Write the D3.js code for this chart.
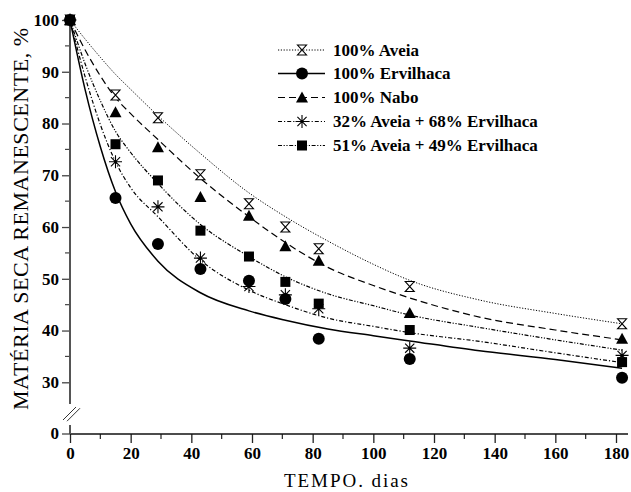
<!DOCTYPE html>
<html>
<head>
<meta charset="utf-8">
<script src="https://cdn.jsdelivr.net/npm/d3@7"></script>
<style>
  body { margin: 0; background: #fff; }
  svg { display: block; }
  text { font-family: "Liberation Serif", "Times New Roman", serif; fill: #000; }
  .bold { font-weight: bold; }
</style>
</head>
<body>
<svg id="chart" width="631" height="492"></svg>
<script>
// observed days and measured values (% remaining)
var days = [0, 15, 29, 43, 59, 71, 82, 112, 182];
var aveia = [100, 85.5, 81.1, 70.1, 64.5, 60.0, 55.8, 48.5, 41.3];
var ervilhaca = [100, 65.6, 56.7, 51.9, 49.6, 46.1, 38.4, 34.5, 30.9];
var nabo = [100, 82.2, 75.4, 65.8, 62.2, 56.3, 53.5, 43.4, 38.4];
var mix32 = [100, 72.6, 63.9, 54.0, 48.5, 46.9, 44.2, 36.6, 35.2];
var mix51 = [100, 76.0, 69.0, 59.3, 54.3, 49.4, 45.2, 40.1, 33.9];

// fitted curves
var fitDays = [0, 5, 10, 15, 20, 29, 43, 59, 71, 85, 100, 112, 135, 160, 182];
var aveiaFit = [100, 96.3, 92.8, 89.5, 86.6, 81.5, 74.2, 66.6, 62.0, 57.3, 52.8, 49.7, 45.9, 43.3, 41.3];
var ervilhacaFit = [100, 86.5, 75.5, 66.8, 60.6, 53.4, 47.3, 43.8, 42.0, 40.3, 39.0, 38.0, 36.1, 34.4, 32.7];
var naboFit = [100, 94.2, 89.2, 85.0, 81.9, 76.9, 69.4, 62.0, 57.0, 52.2, 48.7, 46.3, 42.6, 40.1, 38.2];
var mix32Fit = [100, 89.0, 79.8, 72.6, 67.6, 62.0, 53.6, 47.8, 45.0, 42.4, 40.8, 39.6, 37.9, 35.7, 33.8];
var mix51Fit = [100, 91.5, 84.4, 78.5, 74.4, 68.4, 60.5, 54.3, 50.4, 47.1, 44.8, 43.0, 40.6, 38.2, 36.2];

var xTicks = [0, 20, 40, 60, 80, 100, 120, 140, 160, 180];
var yTicks = [30, 40, 50, 60, 70, 80, 90, 100];

var series = [
    {name: "100% Aveia", pts: aveia, fit: aveiaFit, mark: "hourglass", dash: "1.2,1.6", lw: 1},
    {name: "100% Ervilhaca", pts: ervilhaca, fit: ervilhacaFit, mark: "circle", dash: null, lw: 1.5},
    {name: "100% Nabo", pts: nabo, fit: naboFit, mark: "triangle", dash: "7,4", lw: 1.2},
    {name: "32% Aveia + 68% Ervilhaca", pts: mix32, fit: mix32Fit, mark: "star", dash: "4,2,1.2,2", lw: 1.2},
    {name: "51% Aveia + 49% Ervilhaca", pts: mix51, fit: mix51Fit, mark: "square", dash: "4,1.6,1.2,1.6,1.2,1.6", lw: 1.2}
];

var svg = d3.select("#chart");

var x = d3.scaleLinear().domain([0, 180]).range([70, 616]);
var y = d3.scaleLinear().domain([30, 100]).range([382.3, 20]);
var yZero = 434; // broken axis, the 0 sits below the break

// ---- x axis
var xAxis = d3.axisBottom(x).tickValues(xTicks).tickSize(9).tickPadding(4);
var gx = svg.append("g").attr("transform", "translate(0," + yZero + ")").call(xAxis);
gx.select(".domain").remove();
gx.attr("font-family", null).attr("font-size", null);
gx.selectAll(".tick line").attr("stroke", "#222").attr("stroke-width", 1.3);
gx.selectAll(".tick text").attr("class", "bold").style("font-size", "17px");
svg.append("g").selectAll("line").data(d3.range(10, 190, 20)).join("line")
    .attr("x1", function(d) { return x(d); }).attr("x2", function(d) { return x(d); })
    .attr("y1", yZero).attr("y2", yZero + 5)
    .attr("stroke", "#222").attr("stroke-width", 1.2);
svg.append("line").attr("x1", 70).attr("x2", 628).attr("y1", yZero).attr("y2", yZero)
    .attr("stroke", "#111").attr("stroke-width", 1.6);

// ---- y axis (upper part)
var yAxis = d3.axisLeft(y).tickValues(yTicks).tickSize(8).tickPadding(3);
var gy = svg.append("g").attr("transform", "translate(70,0)").call(yAxis);
gy.select(".domain").remove();
gy.attr("font-family", null).attr("font-size", null);
gy.selectAll(".tick line").attr("stroke", "#444").attr("stroke-width", 1.3);
gy.selectAll(".tick text").attr("class", "bold").style("font-size", "17px");
svg.append("g").selectAll("line").data(d3.range(35, 100, 10)).join("line")
    .attr("x1", 65).attr("x2", 70)
    .attr("y1", function(d) { return y(d); }).attr("y2", function(d) { return y(d); })
    .attr("stroke", "#444").attr("stroke-width", 1.2);
svg.append("line").attr("x1", 70).attr("x2", 70).attr("y1", y(100)).attr("y2", 404)
    .attr("stroke", "#555").attr("stroke-width", 2);

// lower part with the 0
svg.append("line").attr("x1", 70).attr("x2", 70).attr("y1", 425).attr("y2", yZero)
    .attr("stroke", "#555").attr("stroke-width", 2);
svg.append("line").attr("x1", 62).attr("x2", 70).attr("y1", yZero).attr("y2", yZero)
    .attr("stroke", "#444").attr("stroke-width", 1.3);
svg.append("text").attr("class", "bold").attr("x", 59).attr("y", yZero).attr("dy", "0.32em")
    .attr("text-anchor", "end").style("font-size", "17px")
    .text("0");
// break marks
[0, 4].forEach(function(o) {
    svg.append("line").attr("x1", 63 + o).attr("y1", 420 + o * 0.3)
        .attr("x2", 76 + o).attr("y2", 407 + o * 0.3)
        .attr("stroke", "#333").attr("stroke-width", 1);
});

// ---- axis titles
svg.append("text").attr("x", 346).attr("y", 487).attr("text-anchor", "middle")
    .style("font-size", "19px").attr("textLength", 124).attr("lengthAdjust", "spacing")
    .text("TEMPO. dias");
svg.append("text").attr("transform", "translate(28,219) rotate(-90)")
    .attr("text-anchor", "middle").style("font-size", "22px")
    .attr("textLength", 382).attr("lengthAdjust", "spacing")
    .text("MATÉRIA SECA REMANESCENTE, %");

// ---- markers
function drawMark(g, type) {
    if (type === "circle") {
        g.append("circle").attr("r", 6).attr("fill", "#000");
    } else if (type === "triangle") {
        g.append("path").attr("d", "M0,-6L6,5L-6,5Z").attr("fill", "#000");
    } else if (type === "square") {
        g.append("rect").attr("x", -5).attr("y", -5).attr("width", 10).attr("height", 10).attr("fill", "#000");
    } else if (type === "hourglass") {
        g.append("path").attr("d", "M-4.5,-5H4.5L-4.5,5H4.5Z")
            .attr("fill", "#fff").attr("stroke", "#000").attr("stroke-width", 1.1);
    } else if (type === "star") {
        g.append("path").attr("d", "M0,-6.5V6.5M-6.5,0H6.5M-4.6,-4.6L4.6,4.6M-4.6,4.6L4.6,-4.6")
            .attr("stroke", "#000").attr("stroke-width", 1.1);
    }
}

var line = d3.line()
    .x(function(d) { return x(d[0]); })
    .y(function(d) { return y(d[1]); })
    .curve(d3.curveMonotoneX);

series.forEach(function(s) {
    svg.append("path")
        .datum(fitDays.map(function(d, i) { return [d, s.fit[i]]; }))
        .attr("d", line)
        .attr("fill", "none")
        .attr("stroke", "#000")
        .attr("stroke-width", s.lw)
        .attr("stroke-dasharray", s.dash);
});

// draw circles last so they sit on top, like the original
[0, 2, 3, 4, 1].forEach(function(k) {
    var s = series[k];
    svg.append("g").selectAll("g").data(days).join("g")
        .attr("transform", function(d, i) { return "translate(" + x(d) + "," + y(s.pts[i]) + ")"; })
        .each(function() { drawMark(d3.select(this), s.mark); });
});

// ---- legend
var legY = [50, 73.5, 97.5, 121.5, 145.5];
series.forEach(function(s, i) {
    var g = svg.append("g").attr("transform", "translate(0," + legY[i] + ")");
    g.append("line").attr("x1", 278).attr("x2", 325).attr("y1", 0).attr("y2", 0)
        .attr("stroke", "#000").attr("stroke-width", s.lw).attr("stroke-dasharray", s.dash);
    var m = g.append("g").attr("transform", "translate(302,0)");
    drawMark(m, s.mark);
    g.append("text").attr("class", "bold").attr("x", 333).attr("y", 0).attr("dy", "0.35em")
        .style("font-size", "17px").text(s.name);
});
</script>
</body>
</html>
